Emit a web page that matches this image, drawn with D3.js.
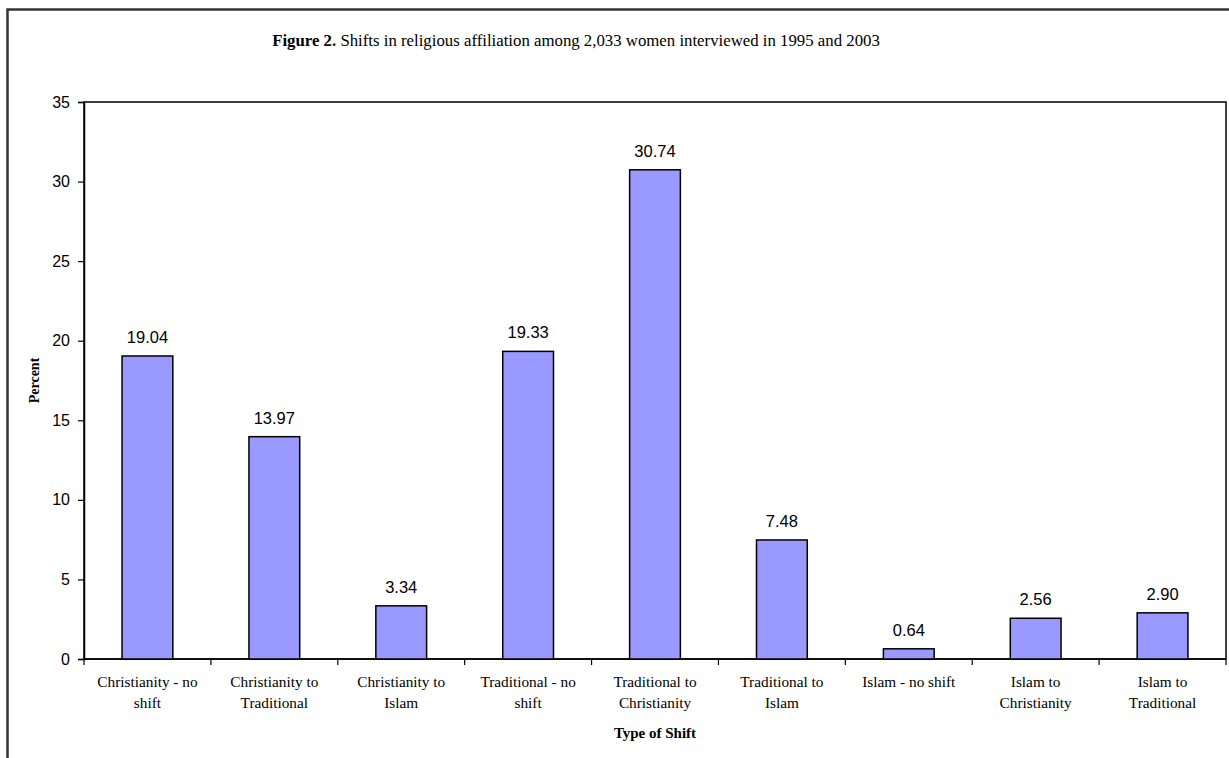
<!DOCTYPE html>
<html>
<head>
<meta charset="utf-8">
<script src="https://cdn.jsdelivr.net/npm/d3@7"></script>
<style>
  html, body { margin: 0; padding: 0; background: #fff; }
  svg { display: block; }
</style>
</head>
<body>
<svg id="chart" width="1229" height="758"></svg>
<script>
const categories = [
  ["Christianity - no", "shift"],
  ["Christianity to", "Traditional"],
  ["Christianity to", "Islam"],
  ["Traditional - no", "shift"],
  ["Traditional to", "Christianity"],
  ["Traditional to", "Islam"],
  ["Islam - no shift"],
  ["Islam to", "Christianity"],
  ["Islam to", "Traditional"]
];
const values = [19.04, 13.97, 3.34, 19.33, 30.74, 7.48, 0.64, 2.56, 2.90];
const yTicks = [0, 5, 10, 15, 20, 25, 30, 35];

const svg = d3.select("#chart");
const plot = { left: 84, right: 1226, top: 102, bottom: 659 };
const serif = "'Liberation Serif', 'DejaVu Serif', serif";
const sans = "'Liberation Sans', Arial, sans-serif";

// outer frame
svg.append("rect")
  .attr("x", 7.5).attr("y", 9.5)
  .attr("width", 1240).attr("height", 780)
  .attr("fill", "none").attr("stroke", "#333").attr("stroke-width", 2.5);

// title
const title = svg.append("text")
  .attr("x", 576).attr("y", 46)
  .attr("text-anchor", "middle")
  .attr("font-family", serif).attr("font-size", 16.8).attr("fill", "#000");
title.append("tspan").attr("font-weight", "bold").text("Figure 2.");
title.append("tspan").text(" Shifts in religious affiliation among 2,033 women interviewed in 1995 and 2003");

const x = d3.scaleBand()
  .domain(d3.range(values.length))
  .range([plot.left, plot.right])
  .padding(0);
const y = d3.scaleLinear().domain([0, 35]).range([plot.bottom, plot.top]);

// plot frame
svg.append("rect")
  .attr("x", plot.left).attr("y", plot.top)
  .attr("width", plot.right - plot.left).attr("height", plot.bottom - plot.top)
  .attr("fill", "none").attr("stroke", "#000").attr("stroke-width", 1.5);

// y axis
const yAxis = svg.append("g")
  .attr("transform", `translate(${plot.left},0)`)
  .call(d3.axisLeft(y).tickValues(yTicks).tickSize(6).tickPadding(8).tickFormat(d3.format("d")));
yAxis.select(".domain").attr("stroke", "#000").attr("stroke-width", 1.5);
yAxis.selectAll(".tick line").attr("stroke", "#000").attr("stroke-width", 1.2);
yAxis.selectAll(".tick text")
  .attr("font-family", sans).attr("font-size", 16).attr("fill", "#000");

// x axis (ticks at band boundaries)
const bounds = d3.range(values.length + 1).map(i => plot.left + i * x.step());
svg.append("g").selectAll("line").data(bounds).join("line")
  .attr("x1", d => d).attr("x2", d => d)
  .attr("y1", plot.bottom).attr("y2", plot.bottom + 6)
  .attr("stroke", "#000").attr("stroke-width", 1.2);
svg.append("line")
  .attr("x1", plot.left).attr("x2", plot.right)
  .attr("y1", plot.bottom).attr("y2", plot.bottom)
  .attr("stroke", "#000").attr("stroke-width", 1.5);

// bars
const barW = x.bandwidth() * 0.4;
svg.append("g").selectAll("rect").data(values).join("rect")
  .attr("x", (d, i) => x(i) + (x.bandwidth() - barW) / 2)
  .attr("y", d => y(d))
  .attr("width", barW)
  .attr("height", d => y(0) - y(d))
  .attr("fill", "#9999FF").attr("stroke", "#000").attr("stroke-width", 1.5);

// value labels
svg.append("g").selectAll("text").data(values).join("text")
  .attr("x", (d, i) => x(i) + x.bandwidth() / 2)
  .attr("y", d => y(d) - 13)
  .attr("text-anchor", "middle")
  .attr("font-family", sans).attr("font-size", 16.5).attr("fill", "#000")
  .text(d => d.toFixed(2));

// category labels
const cl = svg.append("g").selectAll("text").data(categories).join("text")
  .attr("x", (d, i) => x(i) + x.bandwidth() / 2)
  .attr("y", 687)
  .attr("text-anchor", "middle")
  .attr("font-family", serif).attr("font-size", 15.3).attr("fill", "#000");
cl.each(function(d, i) {
  const t = d3.select(this);
  d.forEach((line, j) => {
    t.append("tspan")
      .attr("x", x(i) + x.bandwidth() / 2)
      .attr("dy", j === 0 ? 0 : 21)
      .text(line);
  });
});

// axis titles
svg.append("text")
  .attr("x", (plot.left + plot.right) / 2).attr("y", 738)
  .attr("text-anchor", "middle")
  .attr("font-family", serif).attr("font-size", 15).attr("font-weight", "bold")
  .text("Type of Shift");

svg.append("text")
  .attr("transform", `translate(39,${(plot.top + plot.bottom) / 2}) rotate(-90)`)
  .attr("text-anchor", "middle")
  .attr("font-family", serif).attr("font-size", 14).attr("font-weight", "bold")
  .text("Percent");
</script>
</body>
</html>
